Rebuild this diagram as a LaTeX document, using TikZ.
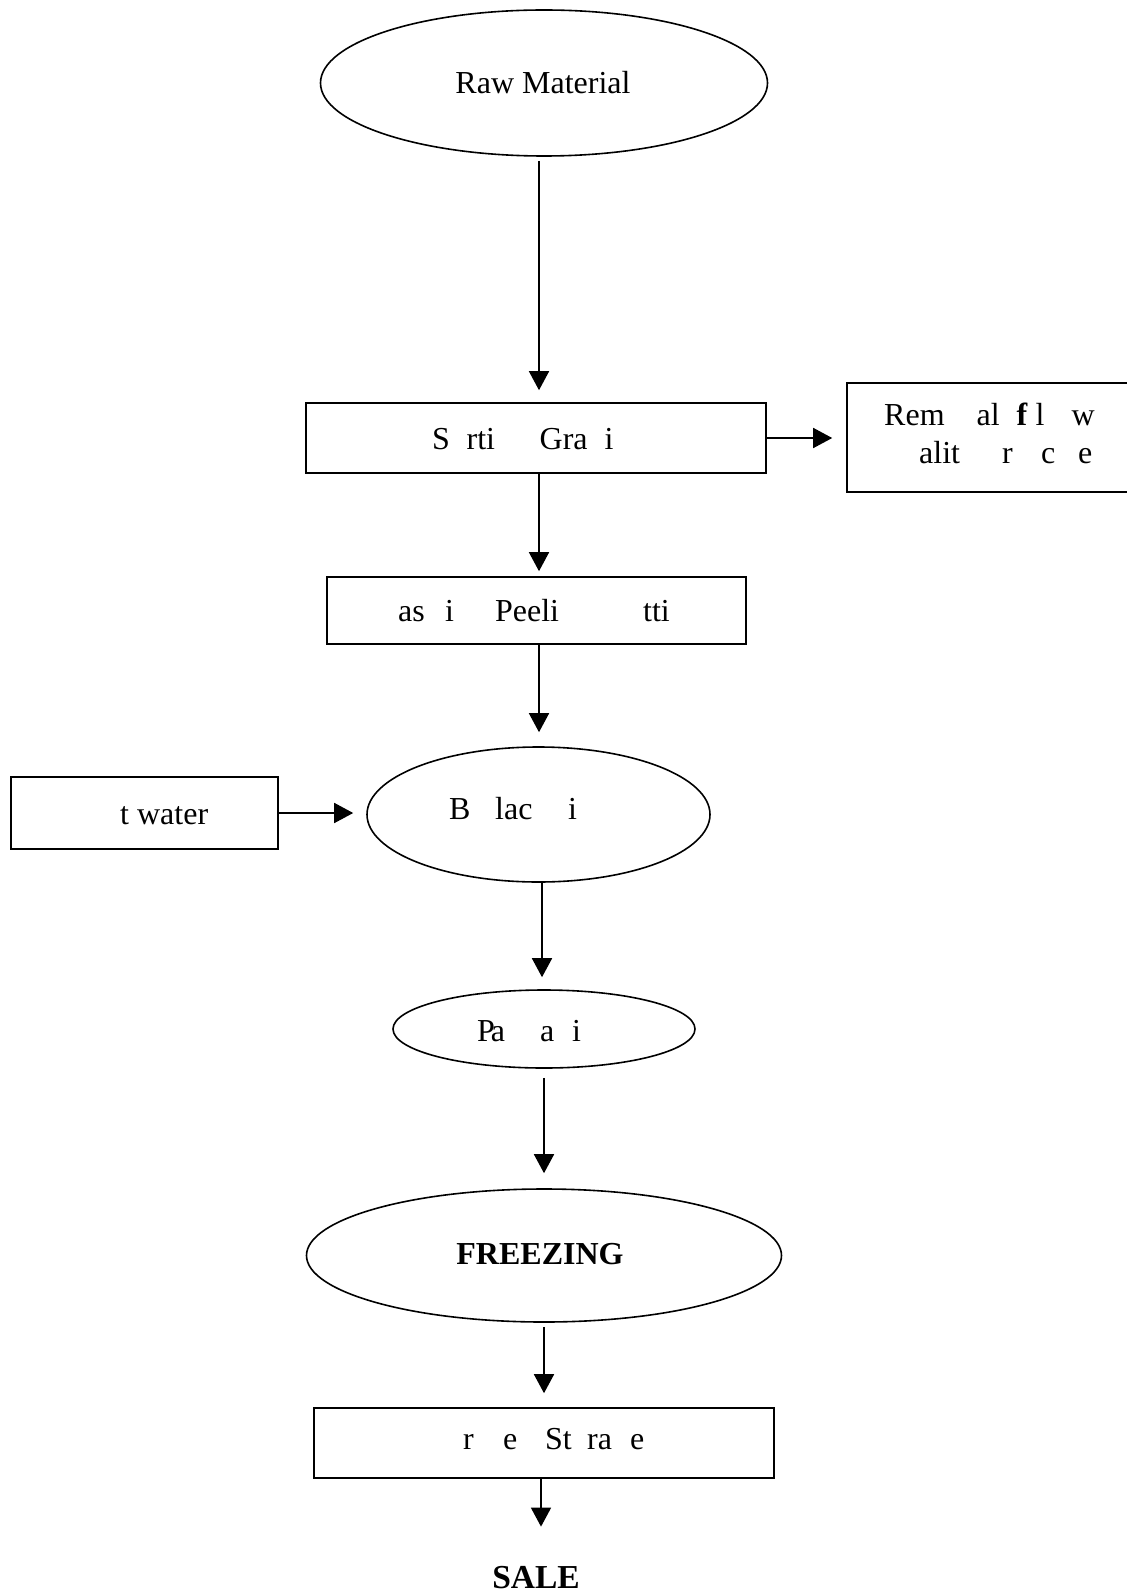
\documentclass[tikz,border=0pt]{standalone}
\usepackage{fontspec}
\setmainfont{Liberation Serif}
\usetikzlibrary{shapes.geometric,arrows.meta,calc}

\begin{document}
\begin{tikzpicture}[x=1pt, y=-1pt,
  box/.style={draw, rectangle, inner sep=0pt, line width=1.6pt},
  oval/.style={draw, ellipse, inner sep=0pt, line width=1.6pt},
  lbl/.style={inner sep=0pt, anchor=base west, font=\fontsize{32}{38}\selectfont},
  head/.style={inner sep=0pt, anchor=base, font=\bfseries\fontsize{32}{38}\selectfont},
  flow/.style={line width=1.6pt, -{Triangle[length=19pt,width=20pt]}}]

% page frame
\fill[white] (0,0) rectangle (1126,1594);
\useasboundingbox (0,0) rectangle (1126,1594);

% process stages
\node[oval, minimum width=447pt, minimum height=146pt] (raw)    at (544,83)      {};
\node[box,  minimum width=460pt, minimum height=70pt]  (sort)   at (536,438)     {};
\node[box,  minimum width=288pt, minimum height=109pt] (rem)    at (991,437.5)   {};
\node[box,  minimum width=419pt, minimum height=67pt]  (wash)   at (536.5,610.5) {};
\node[box,  minimum width=267pt, minimum height=72pt]  (hot)    at (144.5,813)   {};
\node[oval, minimum width=343pt, minimum height=135pt] (blanch) at (538.5,814.5) {};
\node[oval, minimum width=302pt, minimum height=78pt]  (pack)   at (544,1029)    {};
\node[oval, minimum width=475pt, minimum height=133pt] (freeze) at (544,1255.5)  {};
\node[box,  minimum width=460pt, minimum height=70pt]  (froz)   at (544,1443)    {};

% labels
\node[lbl, anchor=base] (tRaw) at (543,94) {Raw Material};
\node[lbl] (tSort) at (432,449) {S\hspace{16.7pt}rti\hspace{44.6pt}Gra\hspace{17pt}i};
\node[lbl] (tRemA) at (884,425) {Rem\hspace{32pt}al\hspace{17pt}\textbf{f}\hspace{8pt}l\hspace{27pt}w};
\node[lbl] (tRemB) at (919,463) {alit\hspace{42pt}r\hspace{28.3pt}c\hspace{22.8pt}e};
\node[lbl] (tWash) at (398,621) {as\hspace{20.3pt}i\hspace{41.1pt}Peeli\hspace{84pt}tti};
\node[lbl] (tHot) at (120,824) {t water};
\node[lbl] (tBlanch) at (449,819) {B\hspace{24.7pt}lac\hspace{35.7pt}i};
\node[lbl] (tPack) at (477,1041) {P\kern-4pt a\hspace{35pt}a\hspace{17.8pt}i};
\node[head] (tFreeze) at (540,1264) {FREEZING};
\node[lbl] (tFroz) at (463,1449) {r\hspace{29.3pt}e\hspace{27.8pt}St\hspace{15.3pt}ra\hspace{18.1pt}e};
\node[head, font=\bfseries\fontsize{33.5}{40}\selectfont] (sale) at (536,1588) {SALE};

% flow arrows
\draw[flow] ($(raw.south)+(-5,4)$) -- ($(sort.north)+(3,-12)$);
\draw[flow] (sort.east) -- ($(sort.east -| rem.west)+(-14,0)$);
\draw[flow] ($(sort.south)+(3,0)$) -- ($(wash.north)+(2.5,-5)$);
\draw[flow] ($(wash.south)+(2.5,0)$) -- ($(blanch.north)+(0.5,-14)$);
\draw[flow] (hot.east) -- ($(hot.east -| blanch.west)+(-13,0)$);
\draw[flow] ($(blanch.south)+(3.5,0)$) -- ($(pack.north)+(-2,-12)$);
\draw[flow] ($(pack.south)+(0,9)$) -- ($(freeze.north)+(0,-15)$);
\draw[flow] ($(freeze.south)+(0,4)$) -- ($(froz.north)+(0,-14)$);
\draw[flow] ($(froz.south)+(-3,0)$) -- ($(sale.north)+(5,-39)$);
\end{tikzpicture}
\end{document}
